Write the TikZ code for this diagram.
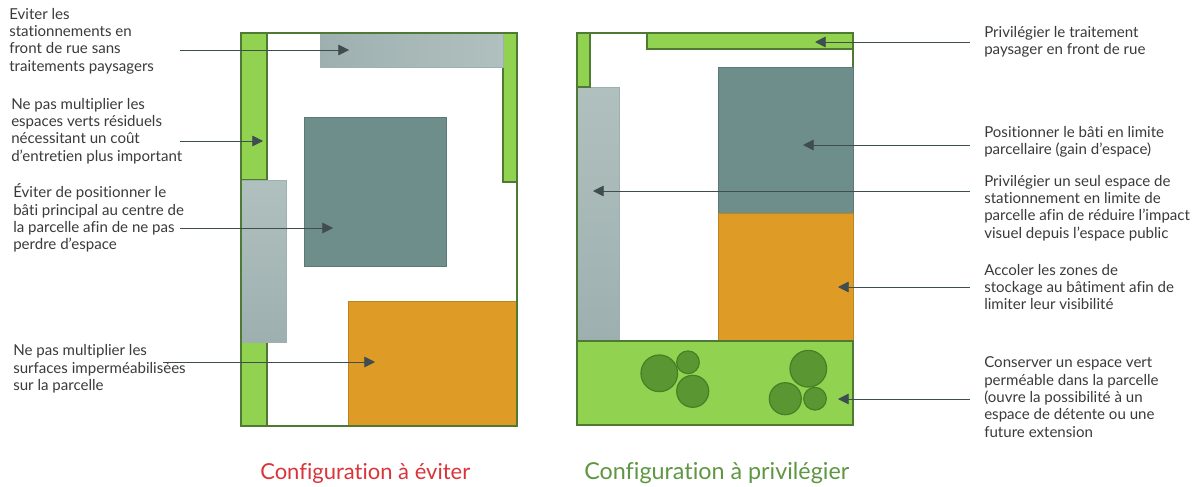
\documentclass[tikz,border=0pt]{standalone}
\usepackage{fontspec}
\setmainfont{Lato}[Ligatures=NoCommon]
\usetikzlibrary{arrows.meta}
\definecolor{gr}{HTML}{91D250}
\definecolor{grl}{HTML}{4F7A33}
\definecolor{tree}{HTML}{5A9733}
\definecolor{treel}{HTML}{467F26}
\definecolor{dk}{HTML}{6E8E8B}
\definecolor{gy}{HTML}{B0C0BF}
\definecolor{gyd}{HTML}{9DB0AF}
\definecolor{org}{HTML}{DE9C26}
\definecolor{arr}{HTML}{3F4D50}
\definecolor{txt}{HTML}{3A3A3A}
\definecolor{ttlred}{HTML}{D9343A}
\definecolor{ttlgreen}{HTML}{5E9642}
\tikzset{
 x=0.75pt,y=-0.75pt,
 plot/.style={draw=grl,line width=1pt},
 greenz/.style={fill=gr,draw=grl,line width=.9pt},
 build/.style={fill=dk,draw=dk!85!black,line width=.7pt},
 park/.style={top color=gy,bottom color=gyd,draw=gyd,line width=.5pt},
 parkh/.style={left color=gyd,right color=gy,draw=gyd,line width=.5pt},
 stock/.style={fill=org,draw=org!85!black,line width=.7pt},
 treec/.style={circle,fill=tree,draw=treel,line width=.9pt,inner sep=0pt},
 lab/.style={anchor=west,align=left,inner sep=0pt,font=\fontsize{11.3pt}{13pt}\selectfont,text=txt},
 ttl/.style={anchor=west,inner sep=0pt},
 ar/.style={draw=arr,line width=.55pt,-{Triangle[length=8pt,width=8pt]}},
}
\begin{document}
\begin{tikzpicture}
\useasboundingbox (0,0) rectangle (1201,486);
% left plot
\draw[greenz] (241,33) rectangle (267,180);
\draw[greenz] (241,342) rectangle (267,426);
\draw[greenz] (503,33) rectangle (517,182);
\draw[parkh] (320,33) rectangle (503,67);
\draw[park] (241,180) rectangle (286,342);
\draw[build] (304,117) rectangle (446,266);
\draw[stock] (348,301) rectangle (517,426);
\draw[plot] (241,33) rectangle (517,426);
% right plot
\draw[park] (577,87) rectangle (619,341);
\draw[plot] (577,33) rectangle (853,425);
\draw[greenz] (577,33) rectangle (590,87);
\draw[greenz] (647,33) rectangle (853,49);
\draw[build] (718,67) rectangle (853,213);
\draw[stock] (718,213) rectangle (853,341);
\draw[greenz] (577,341) rectangle (853,425);
\node[treec,minimum size=27.5pt] (t1) at (659.3,373.3) {};
\node[treec,minimum size=17pt] (t2) at (688,362.3) {};
\node[treec,minimum size=24pt] (t3) at (692.7,391.3) {};
\node[treec,minimum size=27.5pt] (t4) at (808.3,368.7) {};
\node[treec,minimum size=24pt] (t5) at (785.3,398.7) {};
\node[treec,minimum size=17pt] (t6) at (815,398.7) {};
% labels left
\node[lab] (l1) at (9,41) {Eviter les\\stationnements en\\front de rue sans\\traitements paysagers};
\node[lab] (l2) at (11,131) {Ne pas multiplier les\\espaces verts résiduels\\nécessitant un coût\\d’entretien plus important};
\node[lab] (l3) at (13,218) {Éviter de positionner le\\bâti principal au centre de\\la parcelle afin de ne pas\\perdre d’espace};
\node[lab] (l4) at (13,369) {Ne pas multiplier les\\surfaces imperméabilisées\\sur la parcelle};
% labels right
\node[lab] (r1) at (984,42) {Privilégier le traitement\\paysager en front de rue};
\node[lab] (r2) at (984,142) {Positionner le bâti en limite\\parcellaire (gain d’espace)};
\node[lab] (r3) at (984,208) {Privilégier un seul espace de\\stationnement en limite de\\parcelle afin de réduire l’impact\\visuel depuis l’espace public};
\node[lab] (r4) at (984,287) {Accoler les zones de\\stockage au bâtiment afin de\\limiter leur visibilité};
\node[lab] (r5) at (984,397) {Conserver un espace vert\\perméable dans la parcelle\\(ouvre la possibilité à un\\espace de détente ou une\\future extension};
\node[ttl,text=ttlred,font=\fontsize{16.5pt}{20pt}\selectfont] (ta) at (260,473) {Configuration à éviter};
\node[ttl,text=ttlgreen,font=\fontsize{17.5pt}{20pt}\selectfont] (tb) at (584,473) {Configuration à privilégier};
% connector ends
\coordinate (a1s) at (180,50); \coordinate (a1e) at (349,50);
\coordinate (a2s) at (180,141); \coordinate (a2e) at (263,141);
\coordinate (a3s) at (180,228); \coordinate (a3e) at (333,228);
\coordinate (a4s) at (163,362); \coordinate (a4e) at (375,362);
\coordinate (b1s) at (970,42); \coordinate (b1e) at (815,42);
\coordinate (b2s) at (970,145); \coordinate (b2e) at (803,145);
\coordinate (b3s) at (970,191); \coordinate (b3e) at (593,191);
\coordinate (b4s) at (970,287); \coordinate (b4e) at (838,287);
\coordinate (b5s) at (970,399); \coordinate (b5e) at (838,399);
\foreach \n in {a1,a2,a3,a4,b1,b2,b3,b4,b5}{\draw[ar] (\n s) -- (\n e);}
\end{tikzpicture}
\end{document}
